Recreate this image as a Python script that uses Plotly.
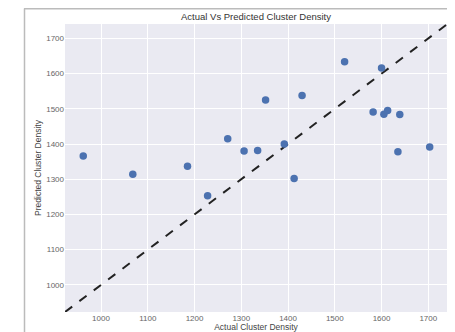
import plotly.graph_objects as go

actual = [962, 1068, 1185, 1228, 1271, 1306, 1335, 1352, 1392, 1413, 1430, 1521,
          1582, 1600, 1605, 1613, 1635, 1639, 1703]
predicted = [1366, 1314, 1337, 1253, 1415, 1380, 1382, 1525, 1400, 1302, 1538, 1634,
             1491, 1616, 1485, 1495, 1378, 1484, 1392]
line_ends = [923, 1740]
x_ticks = [1000, 1100, 1200, 1300, 1400, 1500, 1600, 1700]
y_ticks = [1000, 1100, 1200, 1300, 1400, 1500, 1600, 1700]

# page body has an 8px default margin, so the figure is sized to fill the rest of the window
W, H = 447, 324
L, R, T, B = 57, 8, 16, 20
pw, ph = W - L - R, H - T - B

def px(x):
    return (x - L) / pw

def py(y):
    return (H - B - y) / ph

fig = go.Figure()
fig.add_trace(go.Scatter(
    x=line_ends, y=line_ends, mode="lines",
    line=dict(color="#222222", width=2, dash="dash"), hoverinfo="skip"))
fig.add_trace(go.Scatter(
    x=actual, y=predicted, mode="markers",
    marker=dict(color="#4C72B0", size=7.5, line=dict(width=0))))

axis_common = dict(showgrid=True, gridcolor="white", gridwidth=1.2, zeroline=False,
                   showline=False, ticks="", automargin=False,
                   tickfont=dict(size=8, color="#666666"))
fig.update_layout(
    width=W, height=H,
    margin=dict(l=L, r=R, t=T, b=B),
    paper_bgcolor="white", plot_bgcolor="#EAEAF2",
    showlegend=False,
    font=dict(family="Liberation Sans, Arial, sans-serif", color="#333333"),
    title=dict(text="Actual Vs Predicted Cluster Density", x=0.5, xref="paper", xanchor="center",
               y=1 - 8.5 / H, yref="container", yanchor="middle",
               font=dict(size=9.5, color="#333333")),
    xaxis=dict(range=[923, 1740], tickvals=x_ticks,
               title=dict(text="Actual Cluster Density", font=dict(size=8.5, color="#444444"), standoff=8),
               **axis_common),
    yaxis=dict(range=[923, 1741], tickvals=y_ticks,
               title=dict(text="Predicted Cluster Density", font=dict(size=8.5, color="#444444"), standoff=3),
               **axis_common),
    shapes=[
        dict(type="line", xref="paper", yref="paper", x0=px(16.5), x1=px(16.5),
             y0=py(0.5), y1=py(H + 2), line=dict(color="#BBBBBB", width=1.5)),
        dict(type="line", xref="paper", yref="paper", x0=px(16), x1=px(W + 2),
             y0=py(0.75), y1=py(0.75), line=dict(color="#BBBBBB", width=1.5)),
    ],
)
fig.write_html("out.html")
